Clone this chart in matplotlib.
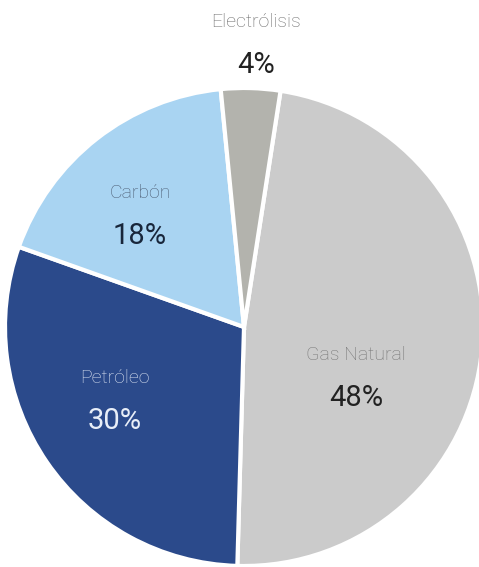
import matplotlib.pyplot as plt

sources = ["Gas Natural", "Petróleo", "Carbón", "Electrólisis"]
shares = [48, 30, 18, 4]
colors = ["#cbcbcb", "#2b4a8b", "#a9d4f2", "#b3b3ad"]

plt.rcParams["font.family"] = ["Roboto", "DejaVu Sans"]

fig = plt.figure(figsize=(4.79, 5.67), dpi=100)
ax = fig.add_axes([0, 0, 1, 1])

wedges, _ = ax.pie(
    shares,
    colors=colors,
    startangle=81.2,
    counterclock=False,
    center=(244, -327),
    radius=239,
    wedgeprops=dict(edgecolor="white", linewidth=3),
)
ax.set_xlim(0, 479)
ax.set_ylim(-567, 0)
ax.set_aspect("equal")
ax.axis("off")

# name / percentage pairs: (x, y, name colour, value colour)
label_style = {
    "Gas Natural": (356, 355, "#777777", "#222222"),
    "Petróleo": (115, 378, "#dbe3f2", "#e8eef8"),
    "Carbón": (140, 193, "#4c5d74", "#18263b"),
    "Electrólisis": (256, 22, "#6a6a6a", "#222222"),
}
for name, share in zip(sources, shares):
    x, y, name_color, value_color = label_style[name]
    ax.text(x, -y, name, ha="center", va="center", fontsize=14,
            fontweight="light", color=name_color)
    ax.text(x, -(y + 43), f"{share}%", ha="center", va="center",
            fontsize=21, color=value_color)

fig.savefig("out.png", dpi=100)
